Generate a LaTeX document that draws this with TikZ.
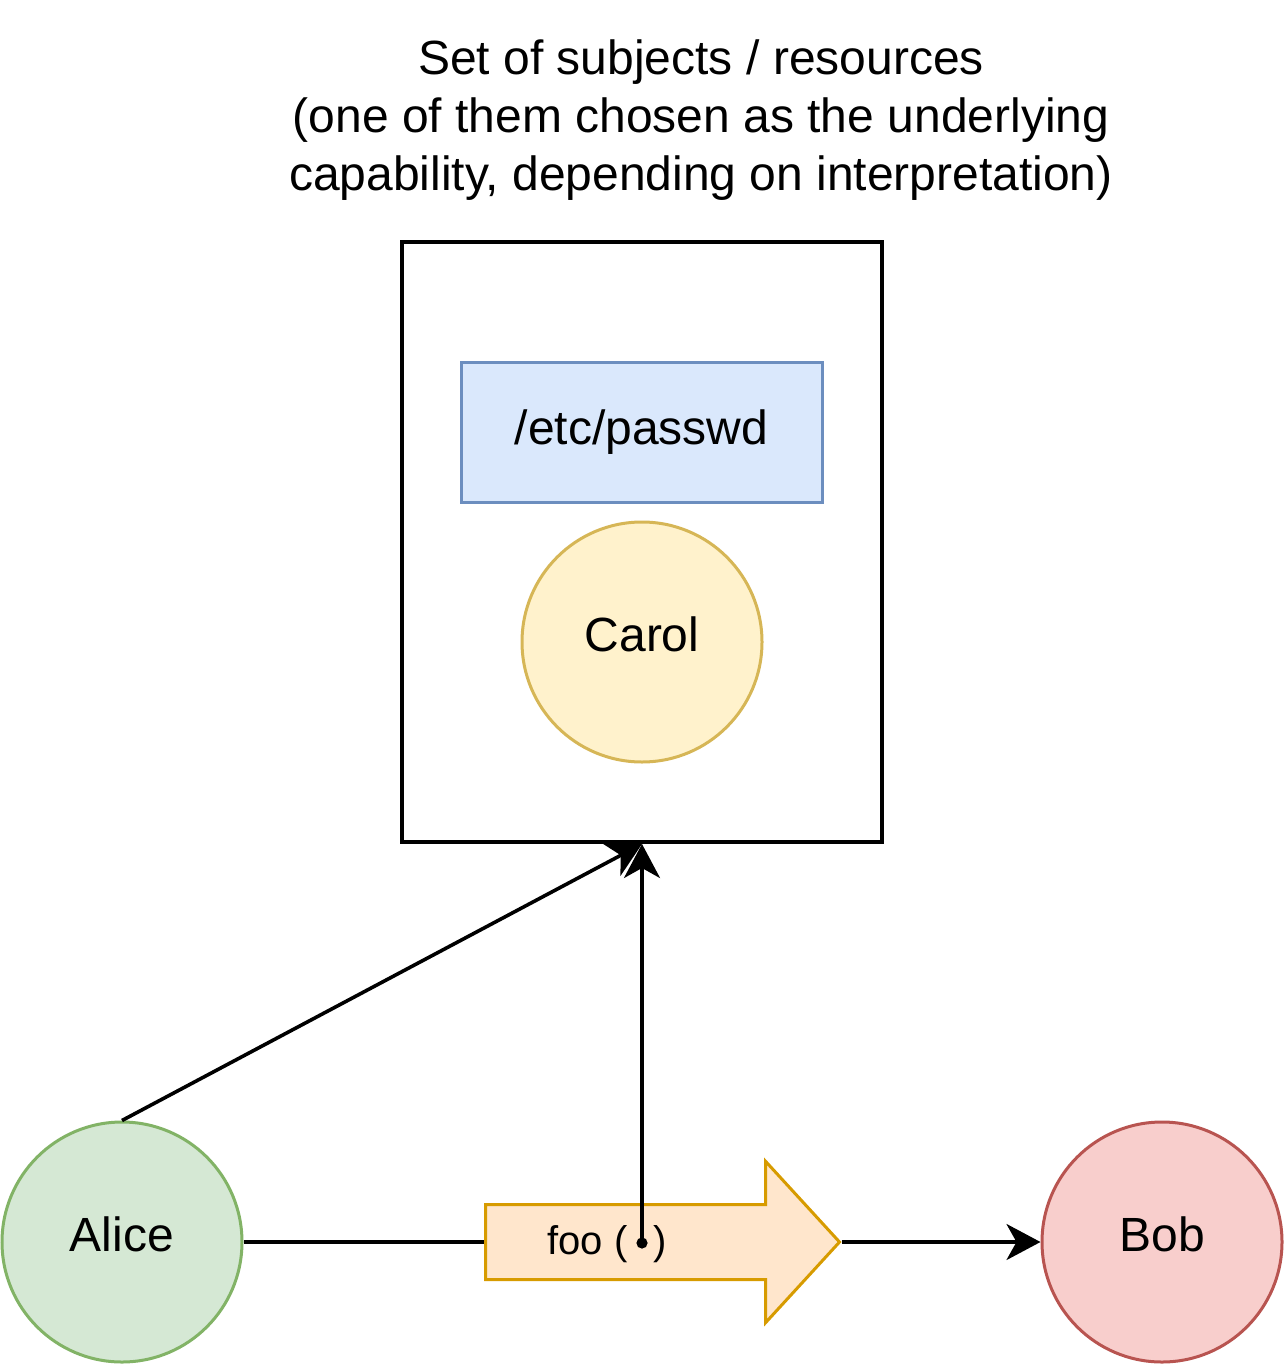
\documentclass[tikz,border=0pt]{standalone}
\usepackage{fontspec}
\setmainfont{Liberation Sans}
\usetikzlibrary{shapes.arrows,arrows.meta}
\definecolor{aliceFill}{HTML}{D5E8D4}
\definecolor{aliceLine}{HTML}{82B366}
\definecolor{bobFill}{HTML}{F8CECC}
\definecolor{bobLine}{HTML}{B85450}
\definecolor{carolFill}{HTML}{FFF2CC}
\definecolor{carolLine}{HTML}{D6B656}
\definecolor{fileFill}{HTML}{DAE8FC}
\definecolor{fileLine}{HTML}{6C8EBF}
\definecolor{callFill}{HTML}{FFE6CC}
\definecolor{callLine}{HTML}{D79B00}
\begin{document}
\begin{tikzpicture}[x=0.5pt,y=-0.5pt]
			\tikzset{
			  Label/.style = { font = \fontsize{24pt}{28.8pt}\selectfont, align = center },
			  Person/.style = { circle, line width = 1.5pt, minimum size = 120pt,
			                    inner sep = 0pt, text depth = 7.5pt,
			                    font = \fontsize{24pt}{28.8pt}\selectfont },
			  Conn/.style = { line width = 1.8pt,
			                  -{Stealth[length = 17pt, width = 18pt, inset = 5pt]} } }
			\useasboundingbox (0,0) rectangle (1284,1364);
			\node[Label] (title) at (701,120)
			  {Set of subjects / resources\\(one of them chosen as the underlying\\capability, depending on interpretation)};
			\node[draw, line width = 2pt, minimum width = 240pt, minimum height = 300pt,
			      inner sep = 0pt] (set) at (642,542) {};
			\node[draw = fileLine, fill = fileFill, line width = 1.5pt, minimum width = 180.5pt,
			      minimum height = 70pt, inner sep = 0pt,
			      font = \fontsize{24pt}{28.8pt}\selectfont] (passwd) at (641.5,432) {/etc/passwd};
			\node[Person, draw = carolLine, fill = carolFill] (carol) at (642,642) {Carol};
			\node[Person, draw = aliceLine, fill = aliceFill] (alice) at (122,1242) {Alice};
			\node[Person, draw = bobLine, fill = bobFill] (bob) at (1162,1242) {Bob};
			% the call passed from Alice to Bob
			\node[single arrow, draw = callLine, fill = callFill, line width = 1.5pt,
			      minimum height = 177pt, inner xsep = 0pt, inner ysep = 18pt,
			      single arrow head extend = 21.5pt, single arrow tip angle = 95,
			      anchor = tail] (call) at (484,1242) {};
			\node[font = \fontsize{20pt}{24pt}\selectfont] (callText) at (607,1244) {foo (\hspace{13pt})};
			\coordinate (arg) at (642,1243);
			\fill (arg) circle (2.8pt);
			\draw[line width = 1.8pt] (alice.east) -- (call.tail);
			\draw[Conn] (call.tip) -- (bob.west);
			\draw[Conn] (alice.north) -- (set.south);
			\draw[Conn] (arg) -- (set.south);
		\end{tikzpicture}
\end{document}
